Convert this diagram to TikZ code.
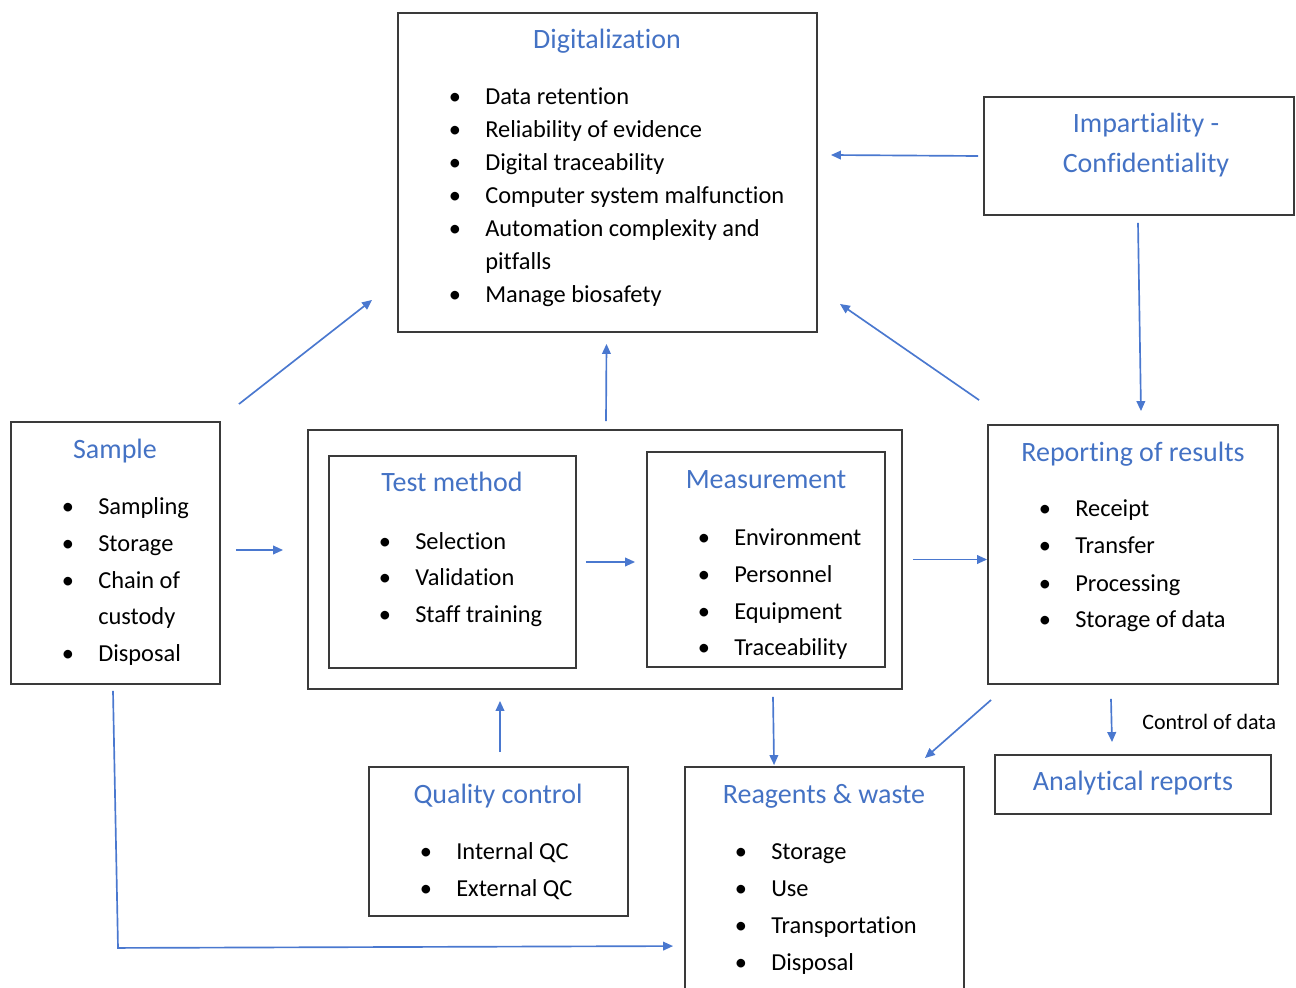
\documentclass[tikz,border=0pt]{standalone}
\usepackage{fontspec}
\setmainfont[Ligatures=NoCommon]{Carlito}
\usetikzlibrary{arrows.meta,calc,fit}
\definecolor{tblue}{HTML}{4472C4}
\definecolor{ablue}{HTML}{4A78CF}
\definecolor{boxgray}{HTML}{3A3A3A}
\tikzset{
  box/.style={draw=boxgray, line width=1.4pt, inner sep=0pt},
  ttl/.style={text=tblue, font=\fontsize{21}{25}\selectfont, anchor=base, inner sep=0pt, yshift=-1.5pt},
  itm/.style={font=\fontsize{18.3}{22}\selectfont, anchor=base west, inner sep=0pt, yshift=-1.2pt},
  bul/.style={font=\fontsize{18.3}{22}\selectfont, anchor=base, inner sep=0pt, yshift=-1.2pt},
  note/.style={font=\fontsize{16.5}{20}\selectfont, anchor=base west, inner sep=0pt, yshift=-1.2pt},
  arr/.style={draw=ablue, line width=1.25pt, -{Triangle[length=7.5pt,width=6.5pt]}},
}
\newcommand\bitem[4]{%
  \node[bul] (#1-b) at (#2,#3) {•};
  \node[itm] (#1) at ({#2+30},#3) {#4};}
\begin{document}
\begin{tikzpicture}[x=0.75pt,y=-0.75pt]
\useasboundingbox (0,0) rectangle (1296,988);
% ---------- boxes ----------
\node[box, fit={(398,13) (817,332)}] (dig) {};
\node[box, fit={(984,97) (1294,215)}] (imp) {};
\node[box, fit={(11,422) (220,684)}] (sample) {};
\node[box, fit={(308,430) (902,689)}] (mid) {};
\node[box, fit={(329,456) (576,668)}] (test) {};
\node[box, fit={(647,452) (885,667)}] (meas) {};
\node[box, fit={(988,425) (1278,684)}] (rep) {};
\node[box, fit={(369,767) (628,916)}] (qc) {};
\node[box, fit={(685,767) (964,1000)}] (reag) {};
\node[box, fit={(995,755) (1271,814)}] (anal) {};
% ---------- Digitalization ----------
\node[ttl] (dig-t) at (607,47) {Digitalization};
\bitem{dig1}{455}{103}{Data retention}
\bitem{dig2}{455}{136}{Reliability of evidence}
\bitem{dig3}{455}{169}{Digital traceability}
\bitem{dig4}{455}{202}{Computer system malfunction}
\bitem{dig5}{455}{235}{Automation complexity and}
\node[itm] (dig5b) at (485,268) {pitfalls};
\bitem{dig6}{455}{301}{Manage biosafety}
% ---------- Impartiality ----------
\node[ttl] (imp-t1) at (1146,131) {Impartiality -};
\node[ttl] (imp-t2) at (1146,171) {Confidentiality};
% ---------- Sample ----------
\node[ttl] (sample-t) at (115,456) {Sample};
\bitem{s1}{68}{513}{Sampling}
\bitem{s2}{68}{550}{Storage}
\bitem{s3}{68}{587}{Chain of}
\node[itm] (s3b) at (98,623) {custody};
\bitem{s4}{68}{660}{Disposal}
% ---------- Test method ----------
\node[ttl] (test-t) at (452,489) {Test method};
\bitem{t1}{385}{548}{Selection}
\bitem{t2}{385}{584}{Validation}
\bitem{t3}{385}{621}{Staff training}
% ---------- Measurement ----------
\node[ttl] (meas-t) at (766,486) {Measurement};
\bitem{m1}{704}{544}{Environment}
\bitem{m2}{704}{581}{Personnel}
\bitem{m3}{704}{618}{Equipment}
\bitem{m4}{704}{654}{Traceability}
% ---------- Reporting ----------
\node[ttl] (rep-t) at (1133,459) {Reporting of results};
\bitem{r1}{1045}{515}{Receipt}
\bitem{r2}{1045}{552}{Transfer}
\bitem{r3}{1045}{590}{Processing}
\bitem{r4}{1045}{626}{Storage of data}
% ---------- Quality control ----------
\node[ttl] (qc-t) at (498,801) {Quality control};
\bitem{q1}{426}{858}{Internal QC}
\bitem{q2}{426}{895}{External QC}
% ---------- Reagents ----------
\node[ttl] (reag-t) at (824,801) {Reagents \& waste};
\bitem{g1}{741}{858}{Storage}
\bitem{g2}{741}{895}{Use}
\bitem{g3}{741}{932}{Transportation}
\bitem{g4}{741}{969}{Disposal}
% ---------- Analytical reports ----------
\node[ttl] (anal-t) at (1133,788) {Analytical reports};
\node[note] (ctrl) at (1142,728) {Control of data};
% ---------- arrows ----------
\draw[arr] ($(sample.north east)+(18,-17)$) -- ($(dig.south west)+(-25,-33)$);
\draw[arr] ($(mid.north)+(1,-8)$) -- ($(dig.south)+(-1,11)$);
\draw[arr] ($(rep.north west)+(-8,-24)$) -- ($(dig.south east)+(22,-29)$);
\draw[arr] ($(imp.west)+(-5,0)$) -- ($(dig.east |- imp.west)+(13,-1)$);
\draw[arr] ($(imp.south)+(-1,7)$) -- ($(rep.north)+(8,-13)$);
\draw[arr] ($(sample.east)+(15,-3)$) -- ($(mid.west)+(-24,-9.5)$);
\draw[arr] ($(test.east)+(9,0)$) -- ($(meas.west)+(-11,2.5)$);
\draw[arr] ($(mid.east)+(10,0)$) -- (rep.west |- mid.east);
\draw[arr] ($(qc.north)+(1.5,-14)$) -- ($(qc.north |- mid.south)+(1.5,11)$);
\draw[arr] ($(mid.south)+(168,7)$) -- ($(reag.north west)+(90,-1)$);
\draw[arr] ($(rep.south west)+(4,15)$) -- ($(reag.north east)+(-40,-8)$);
\draw[arr] ($(rep.south)+(-22,14)$) -- ($(anal.north)+(-21,-12)$);
\draw[arr] ($(sample.south)+(-2.5,6)$) -- ($(sample.south)+(2.5,263)$) -- ($(reag.north west)+(-11,180)$);
\end{tikzpicture}
\end{document}
